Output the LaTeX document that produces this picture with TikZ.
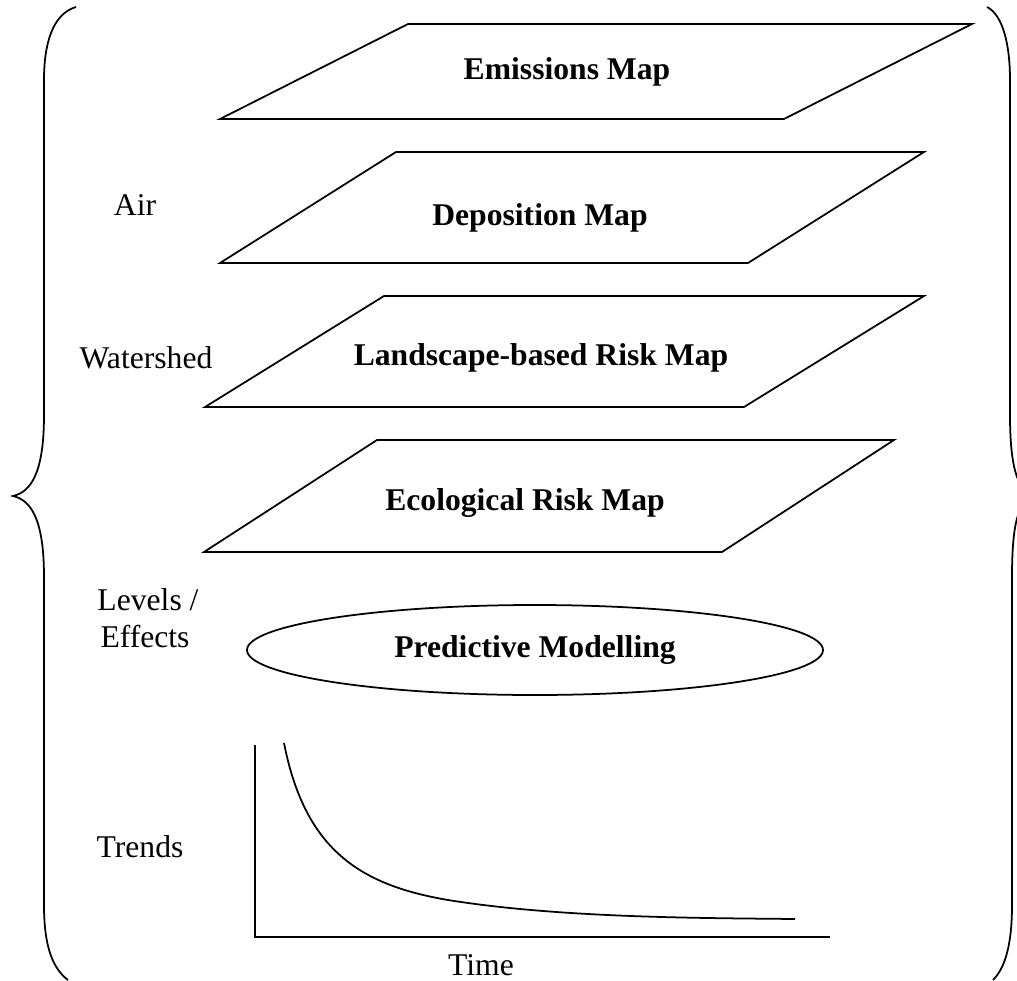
\documentclass[tikz,border=0pt]{standalone}
\usepackage{fontspec}
\setmainfont{Liberation Serif}
\usetikzlibrary{shapes.geometric}
\tikzset{
    couche/.style={font=\fontsize{18}{21}\selectfont\bfseries},
    etiquette/.style={font=\fontsize{18}{21}\selectfont},
  }

\begin{document}
\begin{tikzpicture}[x=0.2mm,y=-0.2mm,line width=1pt]
				  \useasboundingbox (0,0) rectangle (1017,981);
				  %ACCOLADES
				  \draw (76,7) .. controls (52,14) and (44,45) .. (44,80) -- (44,415)
				        .. controls (44,475) and (30,492) .. (13,496)
				        .. controls (30,500) and (44,517) .. (44,577) -- (44,905)
				        .. controls (44,945) and (52,968) .. (68,980);
				  \draw (987,7) .. controls (1003,15) and (1010,45) .. (1010,80) -- (1010,415)
				        .. controls (1010,475) and (1020,492) .. (1035,496)
				        .. controls (1020,500) and (1012,517) .. (1012,577) -- (1012,905)
				        .. controls (1012,945) and (1005,968) .. (993,980);
				  %COUCHES
				  \draw (220,119) -- (408,24) -- (972,24) -- (784,119) -- cycle;
				  \draw (220,263) -- (396,152) -- (924,152) -- (748,263) -- cycle;
				  \draw (205,407) -- (384,296) -- (924,296) -- (744,407) -- cycle;
				  \draw (204,552) -- (377,440) -- (894,440) -- (722,552) -- cycle;
				  \node[couche] (emis) at (567,72) {Emissions Map};
				  \node[couche] (depo) at (540,218) {Deposition Map};
				  \node[couche] (paysage) at (541,358) {Landscape-based Risk Map};
				  \node[couche] (eco) at (525,503) {Ecological Risk Map};
				  %MODELE
				  \node[couche,draw,ellipse,minimum width=115.2mm,minimum height=18mm] (modele) at (535,650) {Predictive Modelling};
				  %ETIQUETTES
				  \node[etiquette] (air) at (135,205) {Air};
				  \node[etiquette] (bassin) at (146,358) {Watershed};
				  \node[etiquette] (niveaux) at (148,600) {Levels /};
				  \node[etiquette] (effets) at (145,637) {Effects};
				  \node[etiquette] (tendances) at (140,847) {Trends};
				  %COURBE
				  \coordinate (O) at (255,937);
				  \coordinate (Y) at (255,745);
				  \coordinate (X) at (830,937);
				  \coordinate (D) at (284,743);
				  \coordinate (F) at (795,919);
				  \draw (Y) -- (O) -- (X);
				  \draw (D) .. controls (305,850) and (360,885) .. (448,900)
				        .. controls (560,918) and (700,918) .. (F);
				  \node[etiquette] (temps) at (481,965) {Time};
				  \end{tikzpicture}
\end{document}
